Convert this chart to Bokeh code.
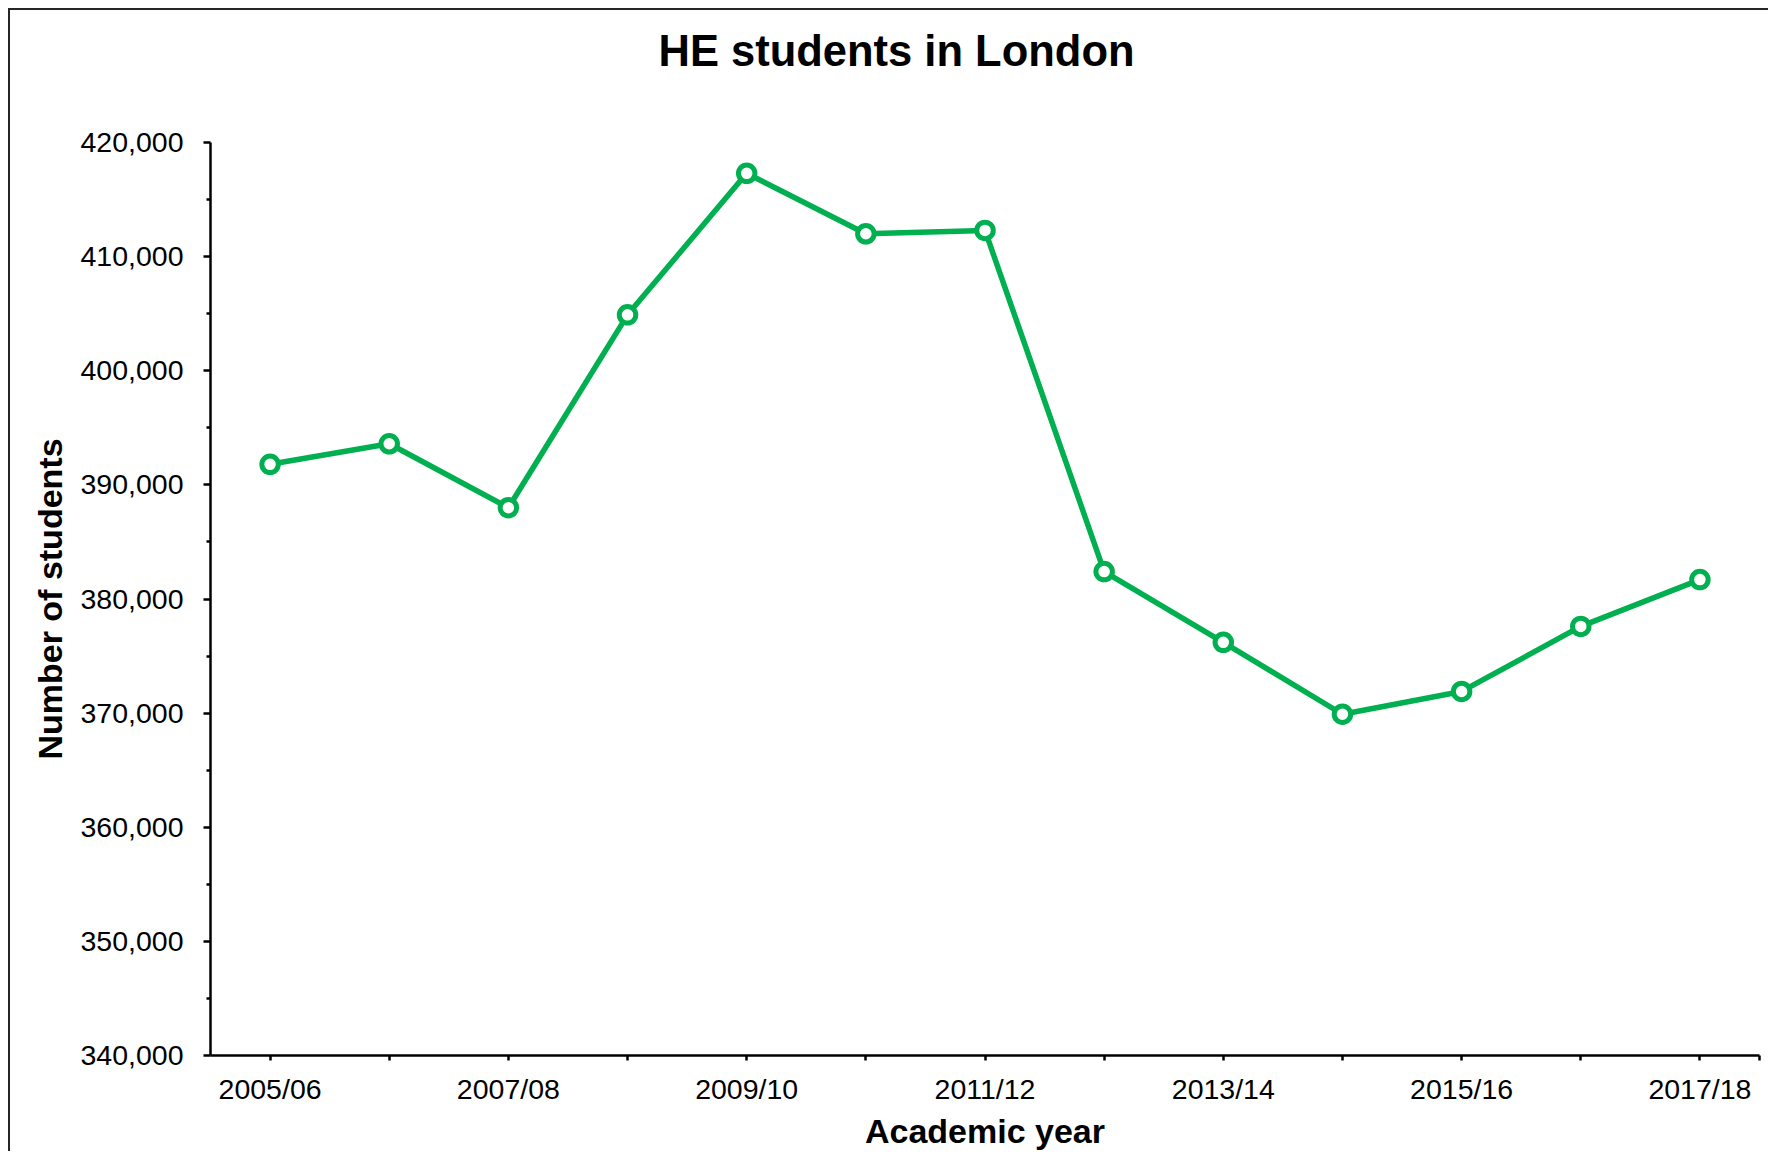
from bokeh.plotting import figure
from bokeh.models import Range1d, FixedTicker, NumeralTickFormatter, Title
from bokeh.embed import file_html
from bokeh.resources import INLINE

years = ["2005/06", "2006/07", "2007/08", "2008/09", "2009/10", "2010/11", "2011/12",
         "2012/13", "2013/14", "2014/15", "2015/16", "2016/17", "2017/18"]
students = [391800, 393600, 388000, 404900, 417300, 412000, 412300,
            382400, 376200, 369900, 371900, 377600, 381700]
y_ticks = [340000, 350000, 360000, 370000, 380000, 390000, 400000, 410000, 420000]
y_minor = [345000, 355000, 365000, 375000, 385000, 395000, 405000, 415000]

GREEN = "#00B050"
FONT = "Liberation Sans"

xpos = list(range(len(years)))
x_end = len(years) - 0.5

p = figure(width=1760, height=1143, output_backend="svg", toolbar_location=None,
           x_range=Range1d(-0.5, x_end), y_range=Range1d(340000, 420000),
           min_border_left=200, min_border_right=11, min_border_top=132, min_border_bottom=98)
p.styles = {"border-left": "2px solid #262626", "border-top": "2px solid #262626",
            "margin-left": "8px", "margin-top": "8px"}
p.outline_line_color = None
p.xgrid.grid_line_color = None
p.ygrid.grid_line_color = None
p.background_fill_color = "white"
p.border_fill_color = "white"

# spacer between the frame and the title
spacer = Title(text=" ", text_font_size="1px", standoff=64)
p.add_layout(spacer, "above")
t = Title(text="HE students in London", align="left", offset=448,
          text_font=FONT, text_font_size="43.5px", text_font_style="bold",
          text_color="black", standoff=2, vertical_align="bottom")
p.add_layout(t, "above")

p.line(xpos, students, line_color=GREEN, line_width=5.5)
p.scatter(xpos, students, marker="circle", size=16.5, fill_color="white",
          line_color=GREEN, line_width=5)

# y axis
ya = p.yaxis[0]
ya.ticker = FixedTicker(ticks=y_ticks, minor_ticks=y_minor)
ya.formatter = NumeralTickFormatter(format="0,0")
ya.axis_label = "Number of students"
ya.axis_label_text_font = FONT
ya.axis_label_text_font_size = "34px"
ya.axis_label_text_font_style = "bold"
ya.axis_label_text_color = "black"
ya.axis_label_standoff = 8
ya.major_label_text_font = FONT
ya.major_label_text_font_size = "28.5px"
ya.major_label_text_color = "black"
ya.major_label_standoff = 20
ya.axis_line_width = 2.5
ya.axis_line_color = "black"
ya.major_tick_line_width = 2.5
ya.major_tick_line_color = "black"
ya.major_tick_out = 7
ya.major_tick_in = 0
ya.minor_tick_line_width = 2.5
ya.minor_tick_line_color = "black"
ya.minor_tick_out = 4
ya.minor_tick_in = 0

# x axis
xa = p.xaxis[0]
xa.ticker = FixedTicker(ticks=xpos + [x_end], minor_ticks=[])
overrides = {i: (y if i % 2 == 0 else " ") for i, y in enumerate(years)}
overrides[x_end] = " "
xa.major_label_overrides = overrides
xa.axis_label = "Academic year"
xa.axis_label_text_font = FONT
xa.axis_label_text_font_size = "34px"
xa.axis_label_text_font_style = "bold"
xa.axis_label_text_color = "black"
xa.axis_label_standoff = 4
xa.major_label_text_font = FONT
xa.major_label_text_font_size = "28.5px"
xa.major_label_text_color = "black"
xa.major_label_standoff = 12
xa.axis_line_width = 2.5
xa.axis_line_color = "black"
xa.major_tick_line_width = 2.5
xa.major_tick_line_color = "black"
xa.major_tick_out = 5
xa.major_tick_in = 0

open("out.html", "w").write(file_html(p, INLINE))
